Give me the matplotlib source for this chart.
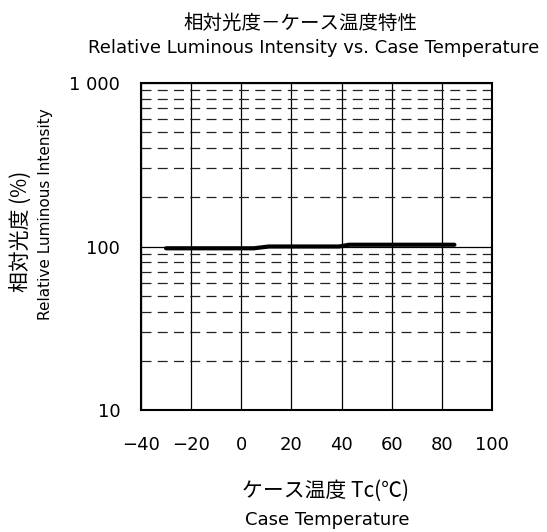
import matplotlib
matplotlib.use("Agg")
import matplotlib.pyplot as plt
from matplotlib.ticker import FixedLocator, NullFormatter

plt.rcParams['font.family'] = ['DejaVu Sans', 'Noto Sans CJK JP']

# data
temp = [-30, 5, 11, 39, 43, 85]
intensity = [97.5, 97.5, 100, 100, 102.5, 102.5]

x_ticks = [-40, -20, 0, 20, 40, 60, 80, 100]
x_tick_labels = ['\u221240', '\u221220', '0', '20', '40', '60', '80', '100']
y_ticks = [10, 100, 1000]
y_tick_labels = ['10', '100', '1 000']
y_minor = [20, 30, 40, 50, 60, 70, 80, 90, 200, 300, 400, 500, 600, 700, 800, 900]

W, H = 547, 532
fig = plt.figure(figsize=(W/100, H/100), dpi=100)
ax = fig.add_axes([141/W, 1-410/H, (492-141)/W, (410-83)/H])

ax.set_yscale('log')
ax.set_xlim(-40, 100)
ax.set_ylim(10, 1000)

ax.xaxis.set_major_locator(FixedLocator(x_ticks))
ax.set_xticklabels(x_tick_labels)
ax.yaxis.set_major_locator(FixedLocator(y_ticks))
ax.set_yticklabels(y_tick_labels)
ax.yaxis.set_minor_locator(FixedLocator(y_minor))
ax.yaxis.set_minor_formatter(NullFormatter())
ax.tick_params(axis='both', which='both', length=0, labelsize=13)
ax.tick_params(axis='y', pad=15)
ax.tick_params(axis='x', pad=19)

# grid
ax.grid(axis='x', which='major', color='black', lw=0.9)
ax.grid(axis='y', which='major', color='black', lw=0.9)
ax.grid(axis='y', which='minor', color='#222222', lw=0.9, linestyle=(0, (8, 5)))
for s in ax.spines.values():
    s.set_linewidth(1.5)

ax.plot(temp, intensity, color='black', lw=3, solid_capstyle='round')

jp = 'Noto Sans CJK JP'
fig.text(300/W, 1-23/H, '相対光度－ケース温度特性', ha='center', va='center',
         fontsize=14, family=jp)
fig.text(314/W, 1-48/H, 'Relative Luminous Intensity vs. Case Temperature',
         ha='center', va='center', fontsize=13)
fig.text(21/W, 1-231/H, '相対光度 (%)', rotation=90, ha='center', va='center',
         fontsize=15, family=jp)
fig.text(46/W, 1-214/H, 'Relative Luminous Intensity', rotation=90,
         ha='center', va='center', fontsize=11)
fig.text(325/W, 1-491/H, 'ケース温度 Tc(℃)', ha='center', va='center',
         fontsize=15, family=jp)
fig.text(327/W, 1-520/H, 'Case Temperature', ha='center', va='center', fontsize=13)

fig.savefig('out.png', dpi=100)
